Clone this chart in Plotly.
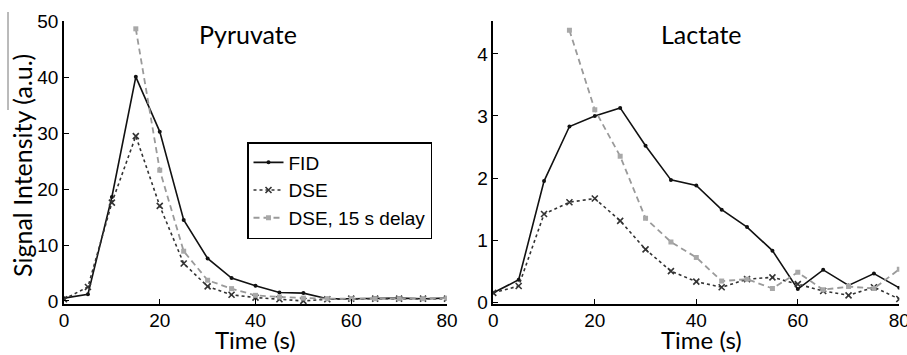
import plotly.graph_objects as go

time_s = [0, 5, 10, 15, 20, 25, 30, 35, 40, 45, 50, 55, 60, 65, 70, 75, 80]
time_delay = [15, 20, 25, 30, 35, 40, 45, 50, 55, 60, 65, 70, 75, 80]

pyr_fid = [0.5, 1.2, 18.6, 40.1, 30.3, 14.5, 7.6, 4.1, 2.7, 1.5, 1.4, 0.4, 0.4, 0.5, 0.5, 0.4, 0.5]
pyr_dse = [0.3, 2.5, 17.6, 29.5, 17.0, 6.7, 2.6, 1.1, 0.6, 0.3, 0.0, 0.3, 0.4, 0.4, 0.4, 0.4, 0.4]
pyr_delay = [48.7, 23.4, 8.9, 3.7, 2.2, 1.0, 0.7, 0.5, 0.4, 0.4, 0.4, 0.4, 0.4, 0.5]

lac_fid = [0.15, 0.36, 1.95, 2.83, 3.00, 3.13, 2.52, 1.97, 1.88, 1.49, 1.21, 0.83, 0.21, 0.52, 0.27, 0.46, 0.23]
lac_dse = [0.15, 0.26, 1.42, 1.61, 1.67, 1.31, 0.85, 0.50, 0.33, 0.24, 0.37, 0.40, 0.29, 0.18, 0.11, 0.24, 0.05]
lac_delay = [4.38, 3.10, 2.35, 1.35, 0.97, 0.72, 0.34, 0.37, 0.22, 0.48, 0.20, 0.25, 0.22, 0.53]

series_names = ["FID", "DSE", "DSE, 15 s delay"]
panel_titles = ["Pyruvate", "Lactate"]
x_ticks = [0, 20, 40, 60, 80]
pyr_y_ticks = [0, 10, 20, 30, 40, 50]
lac_y_ticks = [0, 1, 2, 3, 4]

W, H = 907, 355


def fx(px):
    return px / W


def fy(py):
    return 1 - py / H


TICK_FONT = dict(family="Liberation Sans, Arial", size=19, color="black")
TEXT_FONT = dict(family="Lato, Open Sans", size=25, color="black")

styles = [
    dict(line=dict(color="#111111", width=1.6, dash="solid"),
         marker=dict(symbol="circle", size=4, color="#111111")),
    dict(line=dict(color="#333333", width=1.6, dash="dot"),
         marker=dict(symbol="x-thin", size=6, color="#333333", line=dict(width=1.6, color="#333333"))),
    dict(line=dict(color="#9a9a9a", width=1.8, dash="6px,4px"),
         marker=dict(symbol="square", size=5, color="#a8a8a8")),
]

fig = go.Figure()
panels = [
    ("x", "y", [time_s, time_s, time_delay], [pyr_fid, pyr_dse, pyr_delay], True),
    ("x2", "y2", [time_s, time_s, time_delay], [lac_fid, lac_dse, lac_delay], False),
]
for xa, ya, xs, ys, show in panels:
    for i in range(3):
        fig.add_trace(go.Scatter(
            x=xs[i], y=ys[i], mode="lines+markers", name=series_names[i],
            xaxis=xa, yaxis=ya, showlegend=show, **styles[i]))

axis_common = dict(showline=True, linecolor="black", linewidth=1.5, ticks="inside",
                   ticklen=5, tickwidth=1.2, tickcolor="black", showgrid=False,
                   zeroline=False, tickfont=TICK_FONT, mirror=False, automargin=False,
                   ticklabeloverflow="allow")

ydom = [fy(304), fy(21)]
fig.update_layout(
    template="none",
    width=W, height=H,
    margin=dict(l=0, r=0, t=0, b=0, pad=0, autoexpand=False),
    paper_bgcolor="white", plot_bgcolor="white",
    xaxis=dict(domain=[fx(64), fx(447)], range=[0, 80], tickvals=x_ticks, anchor="y",
               ticklabelstandoff=-2, **axis_common),
    yaxis=dict(domain=ydom, range=[-0.55, 50.1], tickvals=pyr_y_ticks, anchor="x", **axis_common),
    xaxis2=dict(domain=[fx(493.3), fx(899.3)], range=[0, 80], tickvals=x_ticks, anchor="y2",
                ticklabelstandoff=-2, **axis_common),
    yaxis2=dict(domain=ydom, range=[-0.03, 4.53], tickvals=lac_y_ticks, anchor="x2", **axis_common),
    legend=dict(x=fx(247), y=fy(142), xanchor="left", yanchor="top",
                bordercolor="black", borderwidth=1.5, bgcolor="white",
                font=dict(family="Liberation Sans, Arial", size=19, color="black"),
                tracegroupgap=0, itemwidth=30),
    showlegend=True,
)

annotations = [
    dict(text=panel_titles[0], x=fx(248), y=fy(34), xref="paper", yref="paper",
         showarrow=False, font=TEXT_FONT, xanchor="center", yanchor="middle"),
    dict(text=panel_titles[1], x=fx(701), y=fy(34), xref="paper", yref="paper",
         showarrow=False, font=TEXT_FONT, xanchor="center", yanchor="middle"),
    dict(text="Time (s)", x=fx(255), y=0, xref="paper", yref="paper",
         showarrow=False, font=dict(family="Lato, Open Sans", size=24, color="black"),
         xanchor="center", yanchor="bottom", borderpad=0),
    dict(text="Time (s)", x=fx(701), y=0, xref="paper", yref="paper",
         showarrow=False, font=dict(family="Lato, Open Sans", size=24, color="black"),
         xanchor="center", yanchor="bottom", borderpad=0),
    dict(text="Signal Intensity (a.u.)", x=fx(22), y=fy(166), xref="paper", yref="paper",
         showarrow=False, font=TEXT_FONT, xanchor="center", yanchor="middle", textangle=-90),
]
fig.update_layout(annotations=annotations)

fig.add_shape(type="line", xref="paper", yref="paper",
              x0=fx(8), x1=fx(8), y0=fy(12), y1=fy(110),
              line=dict(color="#777777", width=1))

# remove the browser's default 8px body margin so the figure sits at the window origin
fig.write_html("out.html", config={"displayModeBar": False},
               post_script="document.body.style.margin='0px';document.body.style.overflow='hidden';")
